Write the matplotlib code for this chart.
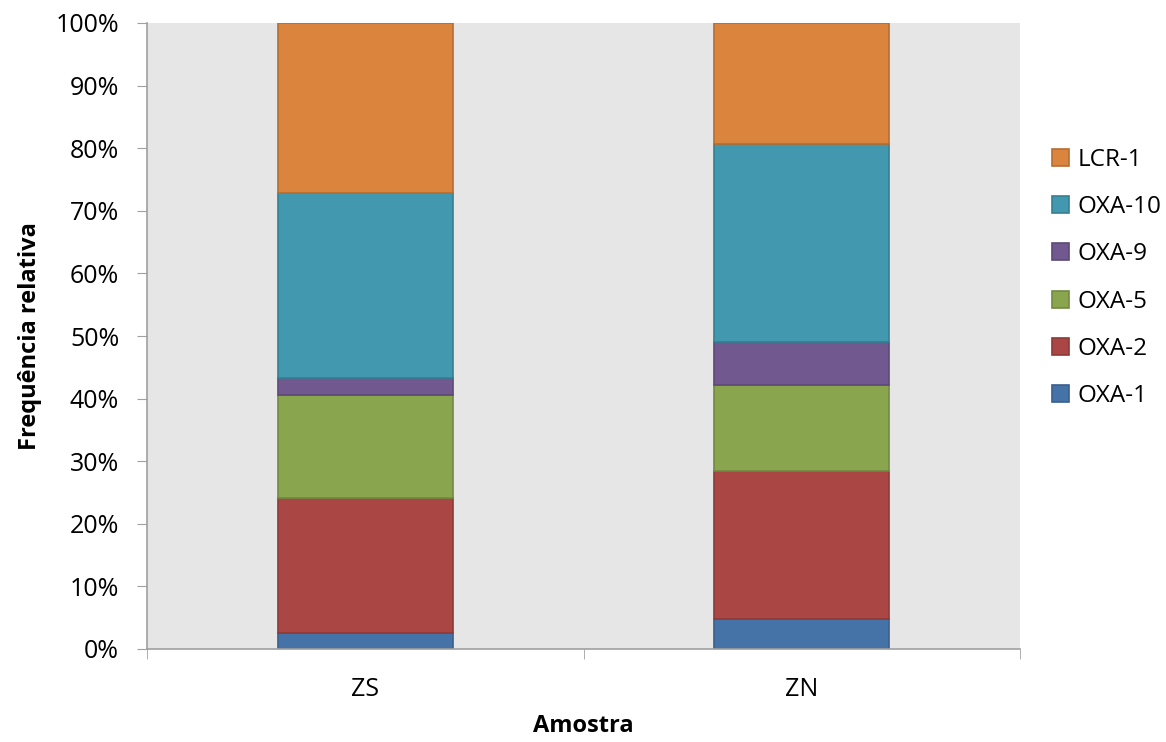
import matplotlib.pyplot as plt
import numpy as np
from matplotlib.ticker import PercentFormatter

plt.rcParams['font.family'] = ['Open Sans', 'DejaVu Sans']

samples = ['ZS', 'ZN']
genes = ['OXA-1', 'OXA-2', 'OXA-5', 'OXA-9', 'OXA-10', 'LCR-1']
# relative frequency (%) of each gene per sample
freq = {
    'OXA-1':  [2.6, 4.8],
    'OXA-2':  [21.5, 23.6],
    'OXA-5':  [16.5, 13.7],
    'OXA-9':  [2.7, 6.9],
    'OXA-10': [29.6, 31.6],
    'LCR-1':  [27.1, 19.4],
}
colors = ['#4572A7', '#AA4643', '#89A54E', '#71588F', '#4198AF', '#DB843D']
edges = ['#3A5F8C', '#8E3A38', '#728A41', '#5E4977', '#367F92', '#B66E33']

fs = 18

fig = plt.figure(figsize=(11.66, 7.42), dpi=100)
ax = fig.add_axes([147/1166, 1 - 649/742, 873/1166, 626/742])
ax.set_facecolor('#E6E6E6')

x = np.arange(len(samples))
bottom = np.zeros(len(samples))
handles = []
for g, c, ec in zip(genes, colors, edges):
    vals = np.array(freq[g])
    h = ax.bar(x, vals, width=0.4, bottom=bottom, color=c, edgecolor=ec,
               linewidth=1.2, label=g)
    handles.append(h)
    bottom += vals

ax.set_xlim(-0.5, 1.5)
ax.set_ylim(0, 100)
ax.set_yticks(np.arange(0, 101, 10))
ax.yaxis.set_major_formatter(PercentFormatter(decimals=0))
ax.set_xticks(x)
ax.set_xticklabels(samples)
ax.set_xticks([-0.5, 0.5, 1.5], minor=True)
ax.tick_params(axis='x', which='major', length=0, pad=20, labelsize=fs)
ax.tick_params(axis='x', which='minor', length=7, color='#A0A0A0', direction='out')
ax.tick_params(axis='y', length=7, color='#A0A0A0', direction='out', labelsize=fs, pad=13)

for s in ['top', 'right']:
    ax.spines[s].set_visible(False)
for s in ['left', 'bottom']:
    ax.spines[s].set_color('#A0A0A0')
    ax.spines[s].set_linewidth(1.2)

ax.set_ylabel('Frequência relativa', fontsize=fs - 1, fontweight='bold', labelpad=10)
ax.set_xlabel('Amostra', fontsize=fs - 1, fontweight='bold', labelpad=9)

leg = fig.legend(handles[::-1], genes[::-1], loc='center left',
                 bbox_to_anchor=(1030/1166, 1 - 278/742), frameon=False,
                 fontsize=fs - 0.5, handlelength=0.7, handleheight=0.7,
                 handletextpad=0.35, labelspacing=0.95)

fig.savefig('out.png', dpi=100, facecolor='white')
